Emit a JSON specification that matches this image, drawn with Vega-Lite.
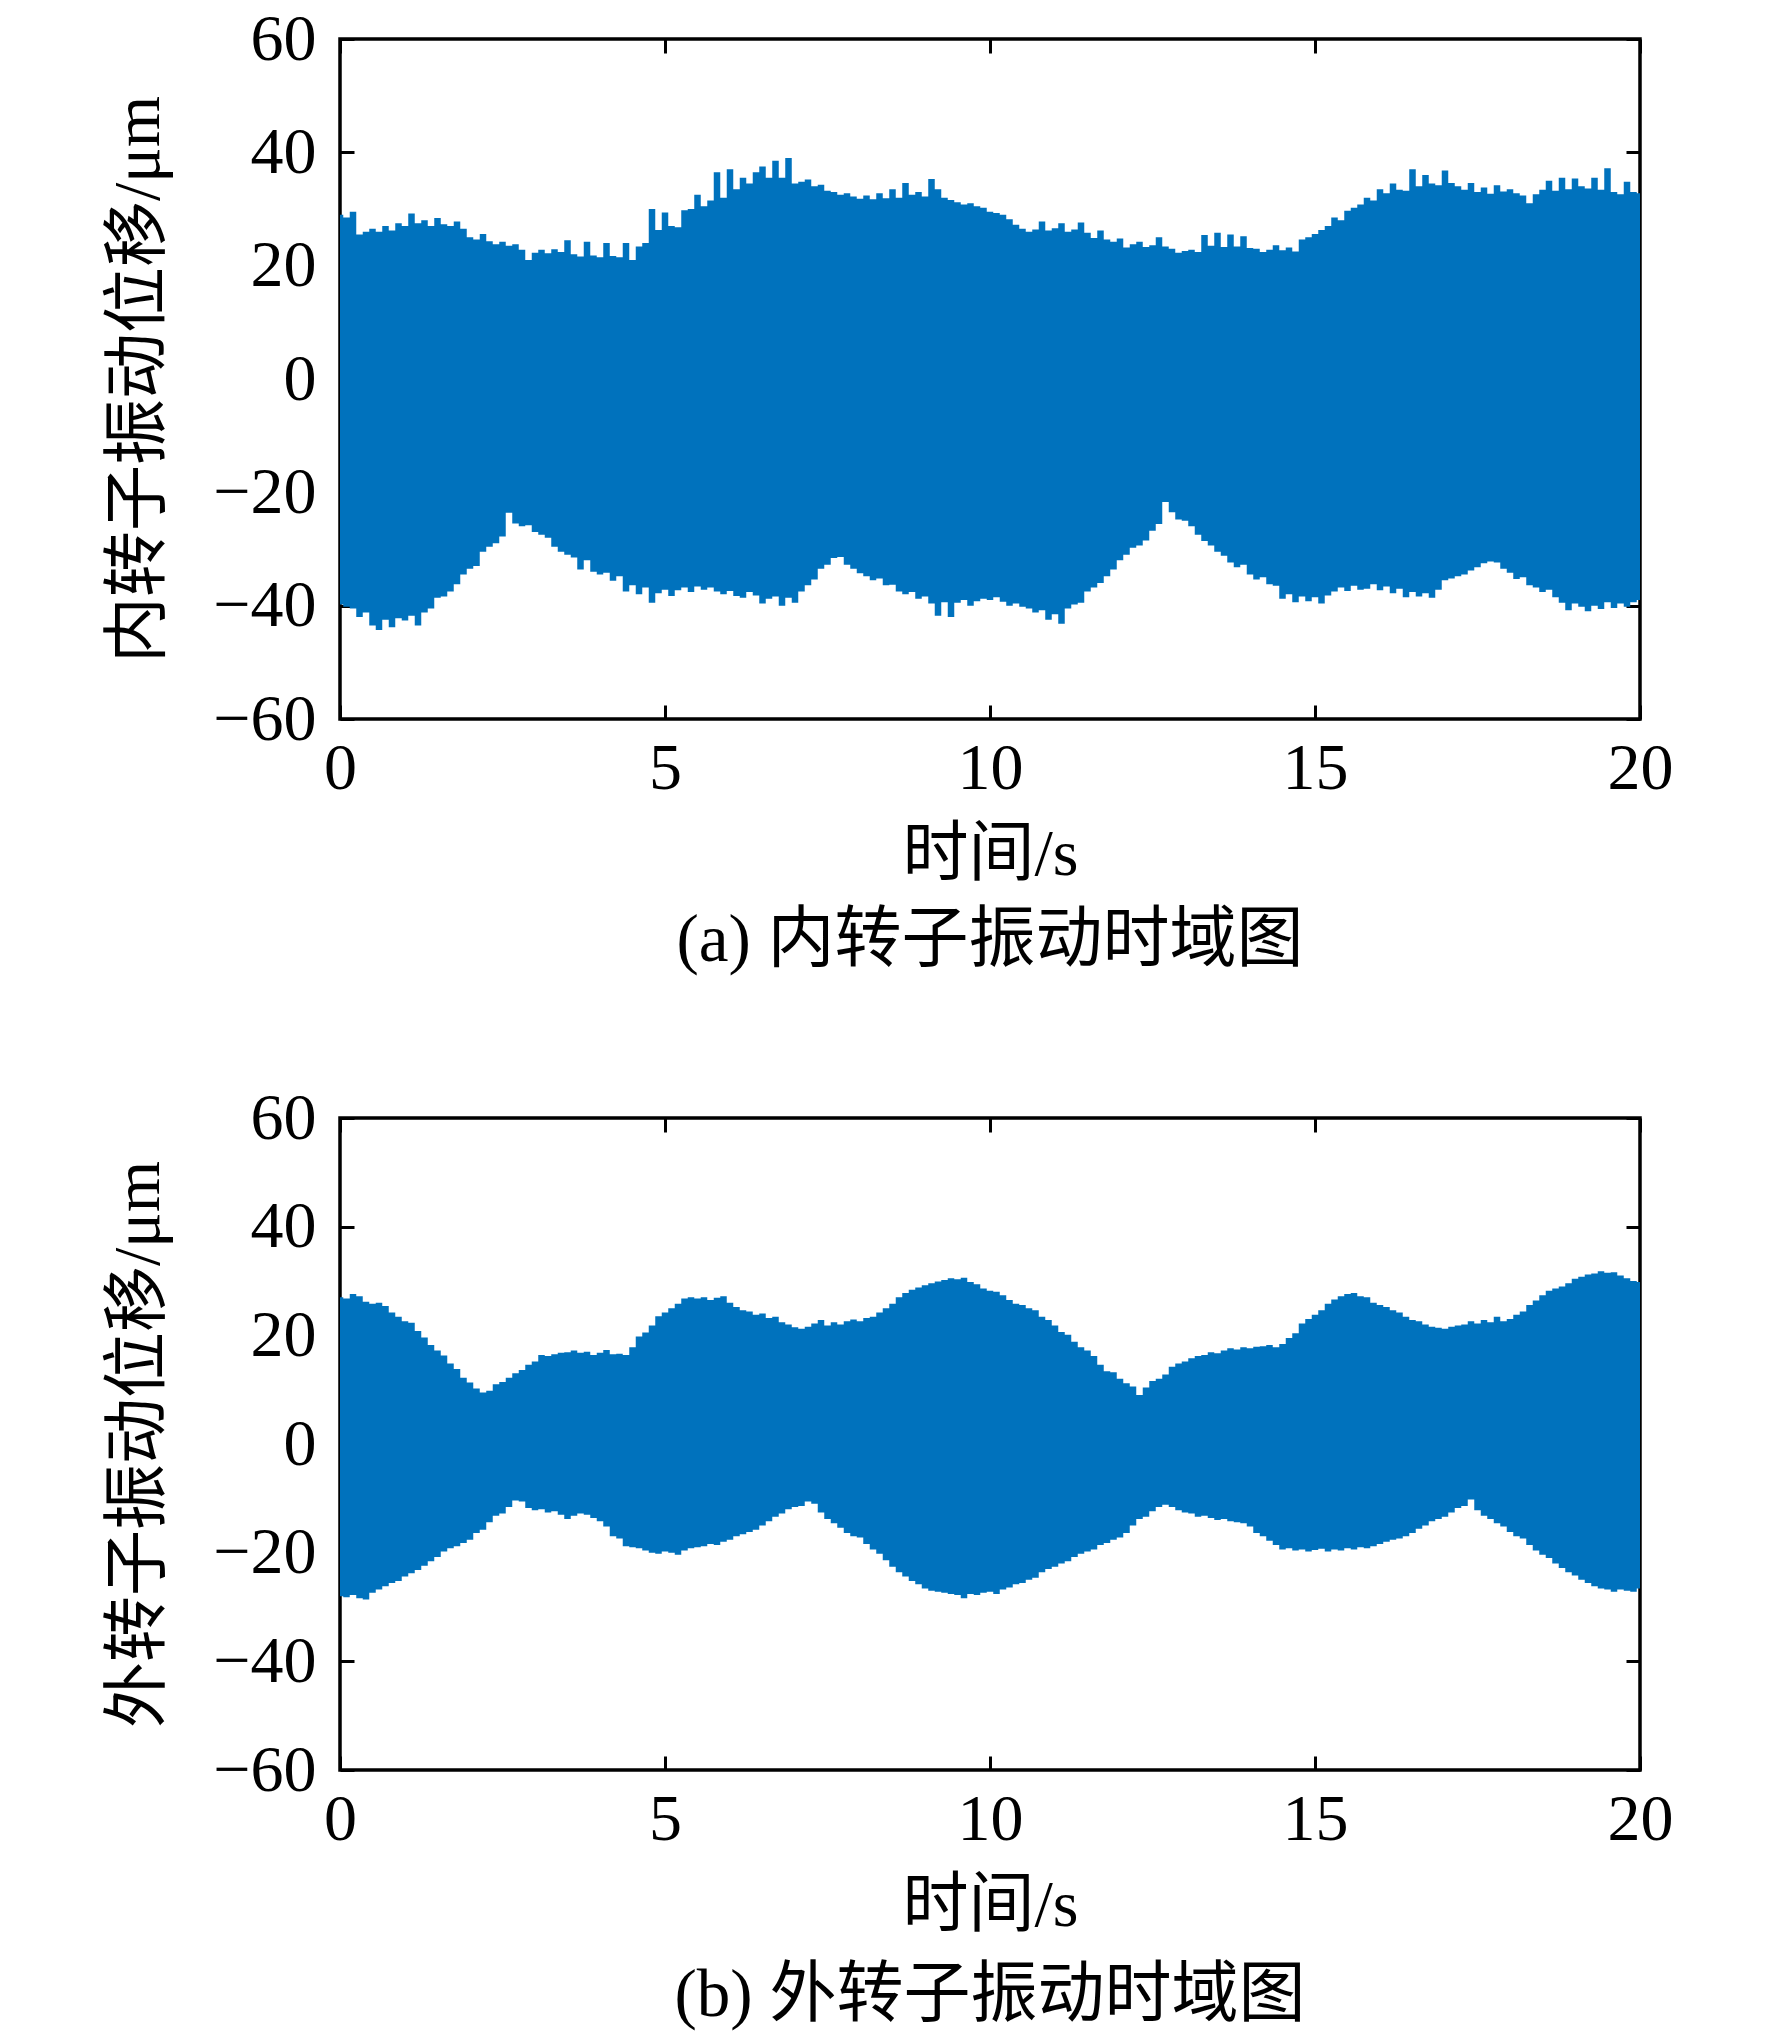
{
  "$schema": "https://vega.github.io/schema/vega-lite/v6.json",
  "background": "white",
  "padding": {"left": 104, "top": 4, "right": 60, "bottom": 10},
  "spacing": 107,
  "config": {
    "font": "Liberation Serif, Noto Sans CJK SC",
    "view": {"stroke": "black", "strokeWidth": 3.5},
    "axis": {
      "domain": false,
      "grid": false,
      "ticks": true,
      "tickColor": "black",
      "tickWidth": 3,
      "tickSize": -14,
      "labelFont": "Liberation Serif",
      "labelFontSize": 66,
      "labelColor": "black",
      "labelPadding": 38,
      "labelFlush": false,
      "labelOverlap": false,
      "titleFont": "Liberation Serif, Noto Sans CJK SC",
      "titleFontSize": 66,
      "titleFontWeight": "normal",
      "titleColor": "black"
    },
    "axisX": {"labelPadding": 31},
    "title": {
      "font": "Liberation Serif, Noto Sans CJK SC",
      "fontSize": 67,
      "fontWeight": "normal",
      "color": "black",
      "orient": "bottom",
      "anchor": "middle"
    }
  },
  "datasets": {
    "inner": [
      {"t":0,"hi":29,"lo":-39.8},{"t":0.1,"hi":28.5,"lo":-40.2},{"t":0.2,"hi":29.5,"lo":-40.5},{"t":0.3,"hi":25.5,"lo":-42},{"t":0.4,"hi":26,"lo":-41.2},
      {"t":0.5,"hi":26.5,"lo":-43.5},{"t":0.6,"hi":26,"lo":-44.3},{"t":0.7,"hi":27,"lo":-42.5},{"t":0.8,"hi":26.2,"lo":-43.8},{"t":0.9,"hi":27.5,"lo":-42.2},
      {"t":1,"hi":27,"lo":-42.6},{"t":1.1,"hi":29.2,"lo":-41.8},{"t":1.2,"hi":27.5,"lo":-43.5},{"t":1.3,"hi":28,"lo":-41.2},{"t":1.4,"hi":27,"lo":-40.5},
      {"t":1.5,"hi":28.4,"lo":-38.6},{"t":1.6,"hi":27.3,"lo":-38.4},{"t":1.7,"hi":27,"lo":-37.5},{"t":1.8,"hi":27.8,"lo":-36.2},{"t":1.9,"hi":26.5,"lo":-34.5},
      {"t":2,"hi":25,"lo":-33.5},{"t":2.1,"hi":24.6,"lo":-33},{"t":2.2,"hi":25.6,"lo":-30.5},{"t":2.3,"hi":24.3,"lo":-29.6},{"t":2.4,"hi":23.8,"lo":-29},
      {"t":2.5,"hi":24.2,"lo":-27.8},{"t":2.6,"hi":23.5,"lo":-23.6},{"t":2.7,"hi":23.8,"lo":-25.5},{"t":2.8,"hi":22.8,"lo":-26},{"t":2.9,"hi":21,"lo":-25.8},
      {"t":3,"hi":22.3,"lo":-27},{"t":3.1,"hi":22.8,"lo":-27.5},{"t":3.2,"hi":22.2,"lo":-28},{"t":3.3,"hi":22.9,"lo":-29.6},{"t":3.4,"hi":22.4,"lo":-30.5},
      {"t":3.5,"hi":24.5,"lo":-31},{"t":3.6,"hi":22,"lo":-31.5},{"t":3.7,"hi":21.6,"lo":-33.6},{"t":3.8,"hi":24.2,"lo":-32},{"t":3.9,"hi":21.8,"lo":-34},
      {"t":4,"hi":21.5,"lo":-34.5},{"t":4.1,"hi":24,"lo":-34.2},{"t":4.2,"hi":21.7,"lo":-35.6},{"t":4.3,"hi":21.5,"lo":-34.8},{"t":4.4,"hi":24,"lo":-37.5},
      {"t":4.5,"hi":21,"lo":-36.4},{"t":4.6,"hi":23.4,"lo":-38},{"t":4.7,"hi":24,"lo":-36.8},{"t":4.8,"hi":30,"lo":-39.5},{"t":4.9,"hi":26.3,"lo":-37.8},
      {"t":5,"hi":29.4,"lo":-37.2},{"t":5.1,"hi":27,"lo":-38.3},{"t":5.2,"hi":26.8,"lo":-37.3},{"t":5.3,"hi":29.8,"lo":-36.8},{"t":5.4,"hi":30,"lo":-37.6},
      {"t":5.5,"hi":32.5,"lo":-36.6},{"t":5.6,"hi":30.5,"lo":-37.2},{"t":5.7,"hi":31.5,"lo":-36.8},{"t":5.8,"hi":36.5,"lo":-37.5},{"t":5.9,"hi":32,"lo":-38},
      {"t":6,"hi":37,"lo":-37.4},{"t":6.1,"hi":33.5,"lo":-38.3},{"t":6.2,"hi":35.5,"lo":-38.6},{"t":6.3,"hi":34.5,"lo":-37.6},{"t":6.4,"hi":36.5,"lo":-38.2},
      {"t":6.5,"hi":37.5,"lo":-39.6},{"t":6.6,"hi":35.5,"lo":-38.8},{"t":6.7,"hi":38.5,"lo":-38.4},{"t":6.8,"hi":35.5,"lo":-40},{"t":6.9,"hi":39,"lo":-38.6},
      {"t":7,"hi":34.5,"lo":-39.5},{"t":7.1,"hi":34.8,"lo":-37.5},{"t":7.2,"hi":35.2,"lo":-36.4},{"t":7.3,"hi":34,"lo":-35.4},{"t":7.4,"hi":34.3,"lo":-33.5},
      {"t":7.5,"hi":33.2,"lo":-32.8},{"t":7.6,"hi":33,"lo":-31.6},{"t":7.7,"hi":32.5,"lo":-31.4},{"t":7.8,"hi":32.8,"lo":-32.8},{"t":7.9,"hi":32.2,"lo":-33.5},
      {"t":8,"hi":31.8,"lo":-34.3},{"t":8.1,"hi":32.4,"lo":-34.8},{"t":8.2,"hi":31.7,"lo":-35.5},{"t":8.3,"hi":32.8,"lo":-35.2},{"t":8.4,"hi":31.9,"lo":-36.4},
      {"t":8.5,"hi":33.5,"lo":-36.3},{"t":8.6,"hi":32,"lo":-37.5},{"t":8.7,"hi":34.6,"lo":-38},{"t":8.8,"hi":32.5,"lo":-37.6},{"t":8.9,"hi":33,"lo":-38.8},
      {"t":9,"hi":32.2,"lo":-38.4},{"t":9.1,"hi":35.3,"lo":-39.6},{"t":9.2,"hi":33.5,"lo":-41.8},{"t":9.3,"hi":32,"lo":-39.4},{"t":9.4,"hi":31.6,"lo":-42},
      {"t":9.5,"hi":31.2,"lo":-39.5},{"t":9.6,"hi":30.8,"lo":-39},{"t":9.7,"hi":31,"lo":-40},{"t":9.8,"hi":30.5,"lo":-39.2},{"t":9.9,"hi":30.2,"lo":-38.8},
      {"t":10,"hi":29.5,"lo":-39},{"t":10.1,"hi":29.3,"lo":-38.5},{"t":10.2,"hi":29,"lo":-39.3},{"t":10.3,"hi":28.2,"lo":-40},{"t":10.4,"hi":27.2,"lo":-39.6},
      {"t":10.5,"hi":26.5,"lo":-40.2},{"t":10.6,"hi":26,"lo":-40.5},{"t":10.7,"hi":26.4,"lo":-41.2},{"t":10.8,"hi":27.8,"lo":-40.8},{"t":10.9,"hi":26.2,"lo":-42.5},
      {"t":11,"hi":26.6,"lo":-41.5},{"t":11.1,"hi":27.5,"lo":-43.2},{"t":11.2,"hi":26,"lo":-40.5},{"t":11.3,"hi":26.4,"lo":-39.8},{"t":11.4,"hi":27.6,"lo":-39.5},
      {"t":11.5,"hi":25.8,"lo":-37.5},{"t":11.6,"hi":24.9,"lo":-36.8},{"t":11.7,"hi":26.2,"lo":-36},{"t":11.8,"hi":24.6,"lo":-34.8},{"t":11.9,"hi":24.2,"lo":-33.6},
      {"t":12,"hi":24.8,"lo":-32},{"t":12.1,"hi":23.2,"lo":-31},{"t":12.2,"hi":23.8,"lo":-29.8},{"t":12.3,"hi":24.2,"lo":-29.4},{"t":12.4,"hi":23.3,"lo":-28.5},
      {"t":12.5,"hi":23.6,"lo":-26.8},{"t":12.6,"hi":25,"lo":-25.6},{"t":12.7,"hi":23.4,"lo":-21.7},{"t":12.8,"hi":23,"lo":-23.5},{"t":12.9,"hi":22.3,"lo":-24.8},
      {"t":13,"hi":22.6,"lo":-25},{"t":13.1,"hi":22.8,"lo":-26},{"t":13.2,"hi":22.4,"lo":-27.5},{"t":13.3,"hi":25.4,"lo":-28.6},{"t":13.4,"hi":23.5,"lo":-29.4},
      {"t":13.5,"hi":25.8,"lo":-30.5},{"t":13.6,"hi":23.3,"lo":-31.2},{"t":13.7,"hi":25.5,"lo":-32.4},{"t":13.8,"hi":23.4,"lo":-33.2},{"t":13.9,"hi":25.2,"lo":-32.8},
      {"t":14,"hi":23.1,"lo":-34.5},{"t":14.1,"hi":23,"lo":-35.4},{"t":14.2,"hi":22.4,"lo":-35},{"t":14.3,"hi":22.8,"lo":-36.2},{"t":14.4,"hi":23.6,"lo":-36.5},
      {"t":14.5,"hi":22.7,"lo":-38.8},{"t":14.6,"hi":23.2,"lo":-38},{"t":14.7,"hi":22.5,"lo":-39.4},{"t":14.8,"hi":24.6,"lo":-38.4},{"t":14.9,"hi":25,"lo":-39.2},
      {"t":15,"hi":25.6,"lo":-38.5},{"t":15.1,"hi":26.3,"lo":-39.6},{"t":15.2,"hi":27,"lo":-38.2},{"t":15.3,"hi":28.5,"lo":-37.5},{"t":15.4,"hi":28,"lo":-36.8},
      {"t":15.5,"hi":29.7,"lo":-37.4},{"t":15.6,"hi":30.2,"lo":-36.5},{"t":15.7,"hi":30.8,"lo":-37.2},{"t":15.8,"hi":32,"lo":-37},{"t":15.9,"hi":31.5,"lo":-36.2},
      {"t":16,"hi":33.5,"lo":-37.3},{"t":16.1,"hi":32.8,"lo":-36.6},{"t":16.2,"hi":34.5,"lo":-37.8},{"t":16.3,"hi":33.4,"lo":-37},{"t":16.4,"hi":33.2,"lo":-38.5},
      {"t":16.5,"hi":37,"lo":-37.6},{"t":16.6,"hi":34,"lo":-38.4},{"t":16.7,"hi":36,"lo":-37.8},{"t":16.8,"hi":34.5,"lo":-38.6},{"t":16.9,"hi":34.2,"lo":-37.2},
      {"t":17,"hi":36.8,"lo":-35.5},{"t":17.1,"hi":34.6,"lo":-35.2},{"t":17.2,"hi":34,"lo":-34.8},{"t":17.3,"hi":33.4,"lo":-34.5},{"t":17.4,"hi":34.6,"lo":-33.8},
      {"t":17.5,"hi":33,"lo":-33.2},{"t":17.6,"hi":33.8,"lo":-32.5},{"t":17.7,"hi":32.7,"lo":-32.2},{"t":17.8,"hi":34.2,"lo":-32.4},{"t":17.9,"hi":33.1,"lo":-33.5},
      {"t":18,"hi":33.5,"lo":-34.2},{"t":18.1,"hi":32.8,"lo":-35.3},{"t":18.2,"hi":32.4,"lo":-35},{"t":18.3,"hi":31,"lo":-36.4},{"t":18.4,"hi":32.6,"lo":-36.8},
      {"t":18.5,"hi":33.4,"lo":-37.6},{"t":18.6,"hi":35,"lo":-37.2},{"t":18.7,"hi":33.2,"lo":-38.5},{"t":18.8,"hi":35.5,"lo":-39.5},{"t":18.9,"hi":33.5,"lo":-40.8},
      {"t":19,"hi":35.4,"lo":-39.6},{"t":19.1,"hi":34,"lo":-40.2},{"t":19.2,"hi":33.6,"lo":-41},{"t":19.3,"hi":35.5,"lo":-40},{"t":19.4,"hi":33.4,"lo":-40.6},
      {"t":19.5,"hi":37.2,"lo":-39.4},{"t":19.6,"hi":33,"lo":-40.4},{"t":19.7,"hi":32.6,"lo":-39.6},{"t":19.8,"hi":34.8,"lo":-40.2},{"t":19.9,"hi":33,"lo":-39.4},
      {"t":20,"hi":32.8,"lo":-39}
    ],
    "outer": [
      {"t":0,"hi":27,"lo":-28},{"t":0.1,"hi":26.8,"lo":-28.2},{"t":0.2,"hi":27.6,"lo":-27.8},{"t":0.3,"hi":27.2,"lo":-28.4},{"t":0.4,"hi":26.2,"lo":-28.6},
      {"t":0.5,"hi":25.8,"lo":-27.4},{"t":0.6,"hi":26,"lo":-26.8},{"t":0.7,"hi":25.4,"lo":-26.2},{"t":0.8,"hi":24.2,"lo":-25.6},{"t":0.9,"hi":23.4,"lo":-25.2},
      {"t":1,"hi":22.6,"lo":-24.4},{"t":1.1,"hi":22.3,"lo":-23.8},{"t":1.2,"hi":20.8,"lo":-23.2},{"t":1.3,"hi":19.6,"lo":-22.4},{"t":1.4,"hi":18.2,"lo":-21.6},
      {"t":1.5,"hi":17.2,"lo":-20.8},{"t":1.6,"hi":16.3,"lo":-19.8},{"t":1.7,"hi":14.8,"lo":-19.2},{"t":1.8,"hi":13.8,"lo":-18.8},{"t":1.9,"hi":12.2,"lo":-18.2},
      {"t":2,"hi":11.3,"lo":-17.6},{"t":2.1,"hi":10.2,"lo":-16.4},{"t":2.2,"hi":9.5,"lo":-15.8},{"t":2.3,"hi":9.8,"lo":-14.4},{"t":2.4,"hi":11,"lo":-13.2},
      {"t":2.5,"hi":11.4,"lo":-12.8},{"t":2.6,"hi":12.2,"lo":-11.6},{"t":2.7,"hi":13,"lo":-10.4},{"t":2.8,"hi":13.6,"lo":-10.6},{"t":2.9,"hi":14.6,"lo":-11.8},
      {"t":3,"hi":15.2,"lo":-12.2},{"t":3.1,"hi":16.4,"lo":-12},{"t":3.2,"hi":16.2,"lo":-12.6},{"t":3.3,"hi":16.5,"lo":-12.4},{"t":3.4,"hi":16.8,"lo":-13},
      {"t":3.5,"hi":16.9,"lo":-13.8},{"t":3.6,"hi":17.2,"lo":-13.2},{"t":3.7,"hi":16.8,"lo":-12.8},{"t":3.8,"hi":17,"lo":-13},{"t":3.9,"hi":16.4,"lo":-13.6},
      {"t":4,"hi":16.8,"lo":-14.2},{"t":4.1,"hi":17.3,"lo":-15.2},{"t":4.2,"hi":16.5,"lo":-17},{"t":4.3,"hi":16.6,"lo":-17.4},{"t":4.4,"hi":16.4,"lo":-18.8},
      {"t":4.5,"hi":17.8,"lo":-19},{"t":4.6,"hi":19.8,"lo":-19.2},{"t":4.7,"hi":20.5,"lo":-19.6},{"t":4.8,"hi":21.8,"lo":-20},{"t":4.9,"hi":23.5,"lo":-20.2},
      {"t":5,"hi":24.2,"lo":-19.8},{"t":5.1,"hi":25,"lo":-20},{"t":5.2,"hi":25.8,"lo":-20.4},{"t":5.3,"hi":26.8,"lo":-19.6},{"t":5.4,"hi":27,"lo":-19.2},
      {"t":5.5,"hi":26.8,"lo":-19},{"t":5.6,"hi":27,"lo":-18.8},{"t":5.7,"hi":26.5,"lo":-18.4},{"t":5.8,"hi":26.9,"lo":-18.6},{"t":5.9,"hi":27.2,"lo":-18},
      {"t":6,"hi":26,"lo":-17.6},{"t":6.1,"hi":25.2,"lo":-17},{"t":6.2,"hi":24.6,"lo":-16.6},{"t":6.3,"hi":24.4,"lo":-16.2},{"t":6.4,"hi":23.8,"lo":-15.8},
      {"t":6.5,"hi":24,"lo":-15},{"t":6.6,"hi":23.2,"lo":-14.2},{"t":6.7,"hi":23.4,"lo":-13.4},{"t":6.8,"hi":22.4,"lo":-12.8},{"t":6.9,"hi":22,"lo":-12},
      {"t":7,"hi":21.5,"lo":-11.6},{"t":7.1,"hi":21.2,"lo":-11.4},{"t":7.2,"hi":21.6,"lo":-10.6},{"t":7.3,"hi":22.2,"lo":-11},{"t":7.4,"hi":22.8,"lo":-12.6},
      {"t":7.5,"hi":21.8,"lo":-13.8},{"t":7.6,"hi":22.4,"lo":-14.6},{"t":7.7,"hi":22,"lo":-15.4},{"t":7.8,"hi":22.6,"lo":-16.4},{"t":7.9,"hi":22.9,"lo":-17},
      {"t":8,"hi":22.6,"lo":-17.2},{"t":8.1,"hi":23.2,"lo":-18.4},{"t":8.2,"hi":23.4,"lo":-19.4},{"t":8.3,"hi":24.2,"lo":-20.2},{"t":8.4,"hi":25,"lo":-21.4},
      {"t":8.5,"hi":25.8,"lo":-22.6},{"t":8.6,"hi":27,"lo":-23.6},{"t":8.7,"hi":27.8,"lo":-24.4},{"t":8.8,"hi":28.4,"lo":-25.2},{"t":8.9,"hi":28.8,"lo":-25.8},
      {"t":9,"hi":29.2,"lo":-26.6},{"t":9.1,"hi":29.6,"lo":-27},{"t":9.2,"hi":29.9,"lo":-27.2},{"t":9.3,"hi":30.2,"lo":-27.4},{"t":9.4,"hi":30.5,"lo":-27.6},
      {"t":9.5,"hi":30.3,"lo":-27.8},{"t":9.6,"hi":30.6,"lo":-28.4},{"t":9.7,"hi":29.8,"lo":-27.6},{"t":9.8,"hi":29.4,"lo":-27.8},{"t":9.9,"hi":28.6,"lo":-27.4},
      {"t":10,"hi":28.2,"lo":-27.2},{"t":10.1,"hi":28,"lo":-27.6},{"t":10.2,"hi":27.4,"lo":-26.8},{"t":10.3,"hi":26.5,"lo":-26.4},{"t":10.4,"hi":25.8,"lo":-25.8},
      {"t":10.5,"hi":25.6,"lo":-25.6},{"t":10.6,"hi":25,"lo":-25},{"t":10.7,"hi":24.6,"lo":-24.6},{"t":10.8,"hi":23.4,"lo":-23.6},{"t":10.9,"hi":22.8,"lo":-23},
      {"t":11,"hi":21.8,"lo":-22.6},{"t":11.1,"hi":20.6,"lo":-22},{"t":11.2,"hi":20.1,"lo":-21.6},{"t":11.3,"hi":18.8,"lo":-20.8},{"t":11.4,"hi":17.8,"lo":-20.2},
      {"t":11.5,"hi":17.2,"lo":-19.8},{"t":11.6,"hi":16.2,"lo":-19.4},{"t":11.7,"hi":14.6,"lo":-18.6},{"t":11.8,"hi":13.4,"lo":-18.2},{"t":11.9,"hi":13.2,"lo":-17.6},
      {"t":12,"hi":12,"lo":-17.2},{"t":12.1,"hi":11.2,"lo":-16.4},{"t":12.2,"hi":10.6,"lo":-15},{"t":12.3,"hi":9,"lo":-13.8},{"t":12.4,"hi":10.4,"lo":-13.4},
      {"t":12.5,"hi":11.6,"lo":-12.4},{"t":12.6,"hi":12,"lo":-11.6},{"t":12.7,"hi":12.8,"lo":-11.2},{"t":12.8,"hi":14.2,"lo":-11.6},{"t":12.9,"hi":14.8,"lo":-12.2},
      {"t":13,"hi":15.2,"lo":-12.6},{"t":13.1,"hi":15.8,"lo":-12.8},{"t":13.2,"hi":16.2,"lo":-13.4},{"t":13.3,"hi":16.4,"lo":-13.2},{"t":13.4,"hi":16.9,"lo":-13.6},
      {"t":13.5,"hi":16.7,"lo":-14},{"t":13.6,"hi":17.2,"lo":-13.8},{"t":13.7,"hi":17.6,"lo":-14.2},{"t":13.8,"hi":17.4,"lo":-14.4},{"t":13.9,"hi":17.8,"lo":-14.6},
      {"t":14,"hi":17.6,"lo":-15.2},{"t":14.1,"hi":17.9,"lo":-16.4},{"t":14.2,"hi":18,"lo":-17},{"t":14.3,"hi":18.2,"lo":-17.8},{"t":14.4,"hi":17.8,"lo":-18.6},
      {"t":14.5,"hi":18.4,"lo":-19.4},{"t":14.6,"hi":19.5,"lo":-19.2},{"t":14.7,"hi":20.4,"lo":-19.6},{"t":14.8,"hi":22.2,"lo":-19.4},{"t":14.9,"hi":23,"lo":-19.8},
      {"t":15,"hi":23.8,"lo":-19.5},{"t":15.1,"hi":24.6,"lo":-19.3},{"t":15.2,"hi":25.8,"lo":-19.8},{"t":15.3,"hi":26.6,"lo":-19.4},{"t":15.4,"hi":27.2,"lo":-19.6},
      {"t":15.5,"hi":27.6,"lo":-19.2},{"t":15.6,"hi":27.8,"lo":-19.4},{"t":15.7,"hi":27.2,"lo":-19},{"t":15.8,"hi":27,"lo":-19.2},{"t":15.9,"hi":26,"lo":-18.8},
      {"t":16,"hi":25.6,"lo":-18.4},{"t":16.1,"hi":25.2,"lo":-18},{"t":16.2,"hi":24.6,"lo":-17.6},{"t":16.3,"hi":24.2,"lo":-17.4},{"t":16.4,"hi":23.4,"lo":-17},
      {"t":16.5,"hi":22.8,"lo":-16.4},{"t":16.6,"hi":22.6,"lo":-15.6},{"t":16.7,"hi":22,"lo":-15},{"t":16.8,"hi":21.6,"lo":-14.2},{"t":16.9,"hi":21.4,"lo":-13.8},
      {"t":17,"hi":21.2,"lo":-13.4},{"t":17.1,"hi":21.6,"lo":-12.6},{"t":17.2,"hi":21.8,"lo":-11.8},{"t":17.3,"hi":22,"lo":-11.4},{"t":17.4,"hi":22.6,"lo":-10.2},
      {"t":17.5,"hi":22.2,"lo":-12.2},{"t":17.6,"hi":22.8,"lo":-13.2},{"t":17.7,"hi":22.4,"lo":-13.8},{"t":17.8,"hi":23.4,"lo":-14.6},{"t":17.9,"hi":22.6,"lo":-15.2},
      {"t":18,"hi":23,"lo":-16.2},{"t":18.1,"hi":23.8,"lo":-17},{"t":18.2,"hi":24.4,"lo":-17.4},{"t":18.3,"hi":25.6,"lo":-18.6},{"t":18.4,"hi":26.4,"lo":-19.6},
      {"t":18.5,"hi":27.4,"lo":-20.4},{"t":18.6,"hi":28.2,"lo":-21},{"t":18.7,"hi":28.6,"lo":-22},{"t":18.8,"hi":29,"lo":-22.8},{"t":18.9,"hi":29.6,"lo":-23.6},
      {"t":19,"hi":30.4,"lo":-24.2},{"t":19.1,"hi":30.8,"lo":-25},{"t":19.2,"hi":31.2,"lo":-25.6},{"t":19.3,"hi":31.4,"lo":-26.2},{"t":19.4,"hi":31.8,"lo":-26.6},
      {"t":19.5,"hi":31.5,"lo":-26.8},{"t":19.6,"hi":31.6,"lo":-27.2},{"t":19.7,"hi":31,"lo":-26.8},{"t":19.8,"hi":30.5,"lo":-27},{"t":19.9,"hi":30,"lo":-27.2},
      {"t":20,"hi":29.8,"lo":-26.6}
    ]
  },
  "vconcat": [
    {
      "width": 1300,
      "height": 680,
      "title": {"text": "(a) 内转子振动时域图", "offset": 21},
      "data": {"name": "inner"},
      "layer": [
        {
          "mark": {"type": "area", "color": "#0072BD", "opacity": 1, "interpolate": "step"},
          "encoding": {
            "x": {"field": "t", "type": "quantitative", "scale": {"domain": [0, 20], "nice": false},
                  "axis": {"title": "时间/s", "values": [0, 5, 10, 15, 20], "titlePadding": 21}},
            "y": {"field": "lo", "type": "quantitative", "scale": {"domain": [-60, 60], "nice": false},
                  "axis": {"title": "内转子振动位移/μm", "values": [-60, -40, -20, 0, 20, 40, 60], "titlePadding": 40}},
            "y2": {"field": "hi"}
          }
        },
        {
          "mark": {"type": "area", "opacity": 0},
          "encoding": {
            "x": {"field": "t", "type": "quantitative", "scale": {"domain": [0, 20], "nice": false},
                  "axis": {"orient": "top", "title": null, "labels": false, "values": [0, 5, 10, 15, 20]}},
            "y": {"field": "lo", "type": "quantitative", "scale": {"domain": [-60, 60], "nice": false},
                  "axis": {"orient": "right", "title": null, "labels": false, "values": [-60, -40, -20, 0, 20, 40, 60]}},
            "y2": {"field": "hi"}
          }
        }
      ],
      "resolve": {"axis": {"x": "independent", "y": "independent"}}
    },
    {
      "width": 1300,
      "height": 652,
      "title": {"text": "(b) 外转子振动时域图", "offset": 25},
      "data": {"name": "outer"},
      "layer": [
        {
          "mark": {"type": "area", "color": "#0072BD", "opacity": 1, "interpolate": "step"},
          "encoding": {
            "x": {"field": "t", "type": "quantitative", "scale": {"domain": [0, 20], "nice": false},
                  "axis": {"title": "时间/s", "values": [0, 5, 10, 15, 20], "titlePadding": 21}},
            "y": {"field": "lo", "type": "quantitative", "scale": {"domain": [-60, 60], "nice": false},
                  "axis": {"title": "外转子振动位移/μm", "values": [-60, -40, -20, 0, 20, 40, 60], "titlePadding": 40}},
            "y2": {"field": "hi"}
          }
        },
        {
          "mark": {"type": "area", "opacity": 0},
          "encoding": {
            "x": {"field": "t", "type": "quantitative", "scale": {"domain": [0, 20], "nice": false},
                  "axis": {"orient": "top", "title": null, "labels": false, "values": [0, 5, 10, 15, 20]}},
            "y": {"field": "lo", "type": "quantitative", "scale": {"domain": [-60, 60], "nice": false},
                  "axis": {"orient": "right", "title": null, "labels": false, "values": [-60, -40, -20, 0, 20, 40, 60]}},
            "y2": {"field": "hi"}
          }
        }
      ],
      "resolve": {"axis": {"x": "independent", "y": "independent"}}
    }
  ]
}
